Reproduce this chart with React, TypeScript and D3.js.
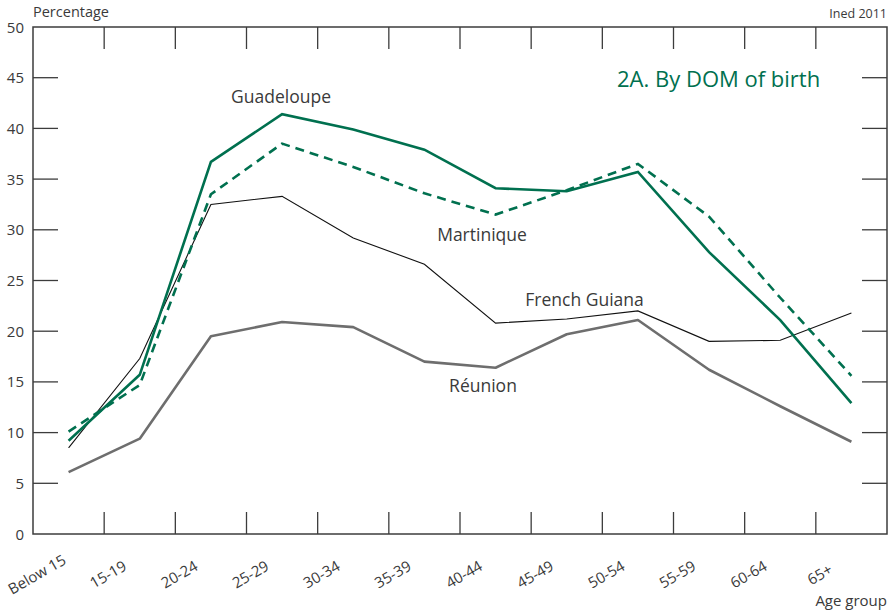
import React from "react";
import * as d3 from "d3";

const categories = ["Below 15", "15-19", "20-24", "25-29", "30-34", "35-39", "40-44", "45-49", "50-54", "55-59", "60-64", "65+"];
const guadeloupe = [9.2, 15.7, 36.7, 41.4, 39.9, 37.9, 34.1, 33.8, 35.7, 27.8, 21.1, 12.9];
const martinique = [10.1, 14.7, 33.5, 38.5, 36.2, 33.6, 31.5, 33.9, 36.5, 31.3, 23.3, 15.6];
const frenchGuiana = [8.5, 17.3, 32.5, 33.3, 29.2, 26.6, 20.8, 21.2, 22.0, 19.0, 19.1, 21.8];
const reunion = [6.1, 9.4, 19.5, 20.9, 20.4, 17.0, 16.4, 19.7, 21.1, 16.2, 12.6, 9.1];
const yTicks = [0, 5, 10, 15, 20, 25, 30, 35, 40, 45, 50];

const GREEN = "#00704f";
const GRAY = "#6e6e6e";
const TEXT = "#3a3a3a";
const AXIS = "#3c3c3c";
const FONT = "'Open Sans', 'Noto Sans', sans-serif";

export default function App() {
  const W = 893, H = 613;
  const left = 33, right = 887, top = 27, bottom = 534;
  const x = d3.scaleBand<string>().domain(categories).range([left, right]).padding(0);
  const y = d3.scaleLinear().domain([0, 50]).range([bottom, top]);
  const cx = (c: string) => (x(c) as number) + x.bandwidth() / 2;
  const line = d3.line<number>().x((_, i) => cx(categories[i])).y((d) => y(d));
  const boundaries = categories.slice(1).map((c) => x(c) as number);

  return (
    <svg width={W} height={H} style={{ position: "absolute", left: 0, top: 0, fontFamily: FONT }}>
      <rect x={0} y={0} width={W} height={H} fill="#fff" />
      {/* frame */}
      <rect x={left} y={top} width={right - left} height={bottom - top} fill="none" stroke={AXIS} strokeWidth={1.5} />
      {/* x ticks bottom & top */}
      {boundaries.map((b, i) => (
        <g key={"xt" + i}>
          <line x1={b} x2={b} y1={bottom} y2={bottom - 22} stroke={AXIS} strokeWidth={1.3} />
          <line x1={b} x2={b} y1={top} y2={top + 22} stroke={AXIS} strokeWidth={1.3} />
        </g>
      ))}
      {/* y ticks left & right */}
      {yTicks.slice(1, -1).map((t) => (
        <g key={"yt" + t}>
          <line x1={left} x2={left + 25} y1={y(t)} y2={y(t)} stroke={AXIS} strokeWidth={1.3} />
          <line x1={right - 25} x2={right} y1={y(t)} y2={y(t)} stroke={AXIS} strokeWidth={1.3} />
        </g>
      ))}
      {yTicks.map((t) => (
        <text key={"yl" + t} x={24} y={y(t) + 5.5} textAnchor="end" fontSize={15} fill={TEXT}>
          {t}
        </text>
      ))}
      {categories.map((c) => (
        <text
          key={"xl" + c}
          transform={`translate(${cx(c) - 29},${bottom + 45}) rotate(-30)`}
          textAnchor="middle"
          fontSize={15}
          fill={TEXT}
        >
          {c}
        </text>
      ))}
      {/* series */}
      <path d={line(reunion) as string} fill="none" stroke={GRAY} strokeWidth={2.6} strokeLinejoin="round" />
      <path d={line(frenchGuiana) as string} fill="none" stroke="#111" strokeWidth={1.1} />
      <path d={line(martinique) as string} fill="none" stroke={GREEN} strokeWidth={2.6} strokeDasharray="9,6" />
      <path d={line(guadeloupe) as string} fill="none" stroke={GREEN} strokeWidth={2.6} />
      {/* labels */}
      <text x={left} y={17} fontSize={14.5} fill={TEXT}>Percentage</text>
      <text x={right} y={18} fontSize={12.5} textAnchor="end" fill={TEXT}>Ined 2011</text>
      <text x={right} y={606} fontSize={15} textAnchor="end" fill={TEXT}>Age group</text>
      <text x={617} y={87} fontSize={22} fill={GREEN}>2A. By DOM of birth</text>
      <text x={281} y={102.5} fontSize={17.5} textAnchor="middle" fill={TEXT}>Guadeloupe</text>
      <text x={482} y={240.5} fontSize={17.5} textAnchor="middle" fill={TEXT}>Martinique</text>
      <text x={584.5} y={305.5} fontSize={17.5} textAnchor="middle" fill={TEXT}>French Guiana</text>
      <text x={483} y={391.5} fontSize={17.5} textAnchor="middle" fill={TEXT}>Réunion</text>
    </svg>
  );
}
